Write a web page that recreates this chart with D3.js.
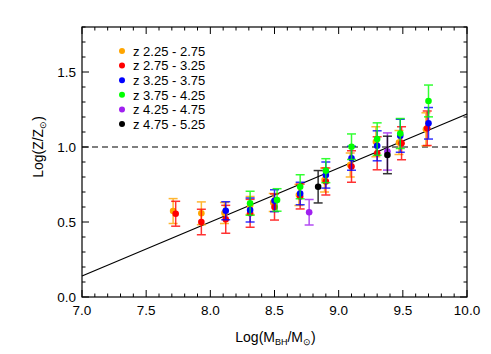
<!DOCTYPE html>
<html>
<head>
<meta charset="utf-8">
<script src="https://cdn.jsdelivr.net/npm/d3@7"></script>
<style>
  body { margin: 0; background: #fff; }
  svg { display: block; font-family: "Liberation Sans", Arial, sans-serif; }
</style>
</head>
<body>
<div id="app"></div>
<script>
// redshift bins (legend order)
const bins = ['z 2.25 - 2.75', 'z 2.75 - 3.25', 'z 3.25 - 3.75', 'z 3.75 - 4.25', 'z 4.25 - 4.75', 'z 4.75 - 5.25']
const binColors = ['#ffa500', '#ff0000', '#0000ff', '#00ff00', '#a020f0', '#000000']

// log M_BH per bin, log Z/Zsun, symmetric error
const massZ1 = [7.71, 7.93, 8.11, 8.31, 8.49, 8.69, 8.89, 9.09, 9.29, 9.47, 9.68]
const metZ1 = [0.573, 0.558, 0.56, 0.61, 0.63, 0.68, 0.78, 0.88, 1.035, 1.03, 1.118]
const errZ1 = [0.083, 0.076, 0.07, 0.06, 0.06, 0.07, 0.08, 0.08, 0.1, 0.08, 0.11]

const massZ2 = [7.73, 7.93, 8.12, 8.31, 8.5, 8.7, 8.9, 9.1, 9.3, 9.49, 9.69]
const metZ2 = [0.555, 0.5, 0.518, 0.558, 0.6, 0.67, 0.77, 0.87, 0.958, 1.025, 1.125]
const errZ2 = [0.083, 0.085, 0.093, 0.093, 0.087, 0.083, 0.09, 0.105, 0.11, 0.11, 0.115]

const massZ3 = [8.12, 8.31, 8.5, 8.7, 8.9, 9.1, 9.3, 9.48, 9.7]
const metZ3 = [0.575, 0.58, 0.642, 0.69, 0.813, 0.925, 1.008, 1.075, 1.158]
const errZ3 = [0.06, 0.08, 0.073, 0.075, 0.087, 0.08, 0.1, 0.11, 0.105]

const massZ4 = [8.31, 8.52, 8.7, 8.9, 9.1, 9.3, 9.48, 9.7]
const metZ4 = [0.625, 0.647, 0.735, 0.842, 1.002, 1.053, 1.09, 1.307]
const errZ4 = [0.08, 0.075, 0.08, 0.08, 0.085, 0.108, 0.1, 0.106]

const massZ5 = [8.77, 9.38]
const metZ5 = [0.565, 0.97]
const errZ5 = [0.085, 0.124]

const massZ6 = [8.84, 9.38]
const metZ6 = [0.735, 0.947]
const errZ6 = [0.108, 0.125]

// linear fit and solar reference
const fitLine = [[7.0, 0.14], [10.0, 1.22]]
const solarLevel = 1.0

const xTicks = [7.0, 7.5, 8.0, 8.5, 9.0, 9.5, 10.0]
const yTicks = [0.0, 0.5, 1.0, 1.5]

const series = [
  [massZ1, metZ1, errZ1],
  [massZ2, metZ2, errZ2],
  [massZ3, metZ3, errZ3],
  [massZ4, metZ4, errZ4],
  [massZ5, metZ5, errZ5],
  [massZ6, metZ6, errZ6],
].map(([m, z, e], i) => m.map((d, j) => ({ m: d, z: z[j], e: e[j], color: binColors[i] })))

const W = 491, H = 354
const margin = { top: 27, right: 24, bottom: 57, left: 82 }
const iw = W - margin.left - margin.right
const ih = H - margin.top - margin.bottom

const svg = d3.select('#app').append('svg').attr('width', W).attr('height', H)
const g = svg.append('g').attr('transform', `translate(${margin.left},${margin.top})`)

const x = d3.scaleLinear().domain([7, 10]).range([0, iw])
const y = d3.scaleLinear().domain([0, 1.8]).range([ih, 0])

// frame
g.append('rect').attr('width', iw).attr('height', ih)
  .attr('fill', 'none').attr('stroke', '#000').attr('stroke-width', 1.2)

// inward ticks on all four sides
const xMinor = d3.range(70, 101).map((d) => d / 10)
const yMinor = d3.range(0, 19).map((d) => d / 10)
const tickLen = (v, major) => (major.some((t) => Math.abs(t - v) < 1e-6) ? 7 : 3.5)
const ticks = g.append('g').attr('stroke', '#000').attr('stroke-width', 1)
xMinor.forEach((v) => {
  const L = tickLen(v, xTicks)
  ticks.append('line').attr('x1', x(v)).attr('x2', x(v)).attr('y1', ih).attr('y2', ih - L)
  ticks.append('line').attr('x1', x(v)).attr('x2', x(v)).attr('y1', 0).attr('y2', L)
})
yMinor.forEach((v) => {
  const L = tickLen(v, yTicks)
  ticks.append('line').attr('y1', y(v)).attr('y2', y(v)).attr('x1', 0).attr('x2', L)
  ticks.append('line').attr('y1', y(v)).attr('y2', y(v)).attr('x1', iw).attr('x2', iw - L)
})

// tick labels
g.append('g').selectAll('text').data(xTicks).join('text')
  .attr('x', (d) => x(d)).attr('y', ih + 18)
  .attr('text-anchor', 'middle').attr('font-size', 13.5)
  .text((d) => d.toFixed(1))
g.append('g').selectAll('text').data(yTicks).join('text')
  .attr('x', -6).attr('y', (d) => y(d) + 5)
  .attr('text-anchor', 'end').attr('font-size', 13.5)
  .text((d) => d.toFixed(1))

// axis titles
const xt = svg.append('text').attr('x', margin.left + iw / 2 + 1).attr('y', 342)
  .attr('text-anchor', 'middle').attr('font-size', 14)
xt.append('tspan').text('Log(M')
xt.append('tspan').attr('font-size', 9).attr('dy', 3).text('BH')
xt.append('tspan').attr('dy', -3).text('/M')
xt.append('tspan').attr('font-size', 9).attr('dy', 3).text('⊙')
xt.append('tspan').attr('dy', -3).text(')')

const yt = svg.append('text').attr('transform', `translate(43,${margin.top + y(1.0)}) rotate(-90)`)
  .attr('text-anchor', 'middle').attr('font-size', 14)
yt.append('tspan').text('Log(Z/Z')
yt.append('tspan').attr('font-size', 9).attr('dy', 3).text('⊙')
yt.append('tspan').attr('dy', -3).text(')')

// solar line
g.append('line').attr('x1', 0).attr('x2', iw).attr('y1', y(solarLevel)).attr('y2', y(solarLevel))
  .attr('stroke', '#000').attr('stroke-width', 1.2).attr('stroke-dasharray', '6,4')

// fit line
g.append('path').datum(fitLine)
  .attr('d', d3.line().x((d) => x(d[0])).y((d) => y(d[1])))
  .attr('stroke', '#000').attr('stroke-width', 1.2).attr('fill', 'none')

// error bars and points
const cap = 4.5
series.forEach((pts) => {
  const s = g.append('g')
  const eb = s.selectAll('g.eb').data(pts).join('g').attr('class', 'eb')
    .attr('stroke', (d) => d.color).attr('stroke-width', 1.5).attr('opacity', 0.8)
  eb.append('line').attr('x1', (d) => x(d.m)).attr('x2', (d) => x(d.m))
    .attr('y1', (d) => y(d.z - d.e)).attr('y2', (d) => y(d.z + d.e))
  eb.append('line').attr('x1', (d) => x(d.m) - cap).attr('x2', (d) => x(d.m) + cap)
    .attr('y1', (d) => y(d.z + d.e)).attr('y2', (d) => y(d.z + d.e))
  eb.append('line').attr('x1', (d) => x(d.m) - cap).attr('x2', (d) => x(d.m) + cap)
    .attr('y1', (d) => y(d.z - d.e)).attr('y2', (d) => y(d.z - d.e))
  s.selectAll('circle').data(pts).join('circle')
    .attr('cx', (d) => x(d.m)).attr('cy', (d) => y(d.z)).attr('r', 3.3)
    .attr('fill', (d) => d.color)
})

// legend
const lg = svg.append('g').attr('transform', 'translate(122,51)')
const items = lg.selectAll('g').data(bins).join('g')
  .attr('transform', (d, i) => `translate(0,${i * 14.6})`)
items.append('circle').attr('r', 3).attr('fill', (d, i) => binColors[i])
items.append('text').attr('x', 11).attr('y', 4.7).attr('font-size', 13).text((d) => d)
</script>
</body>
</html>
